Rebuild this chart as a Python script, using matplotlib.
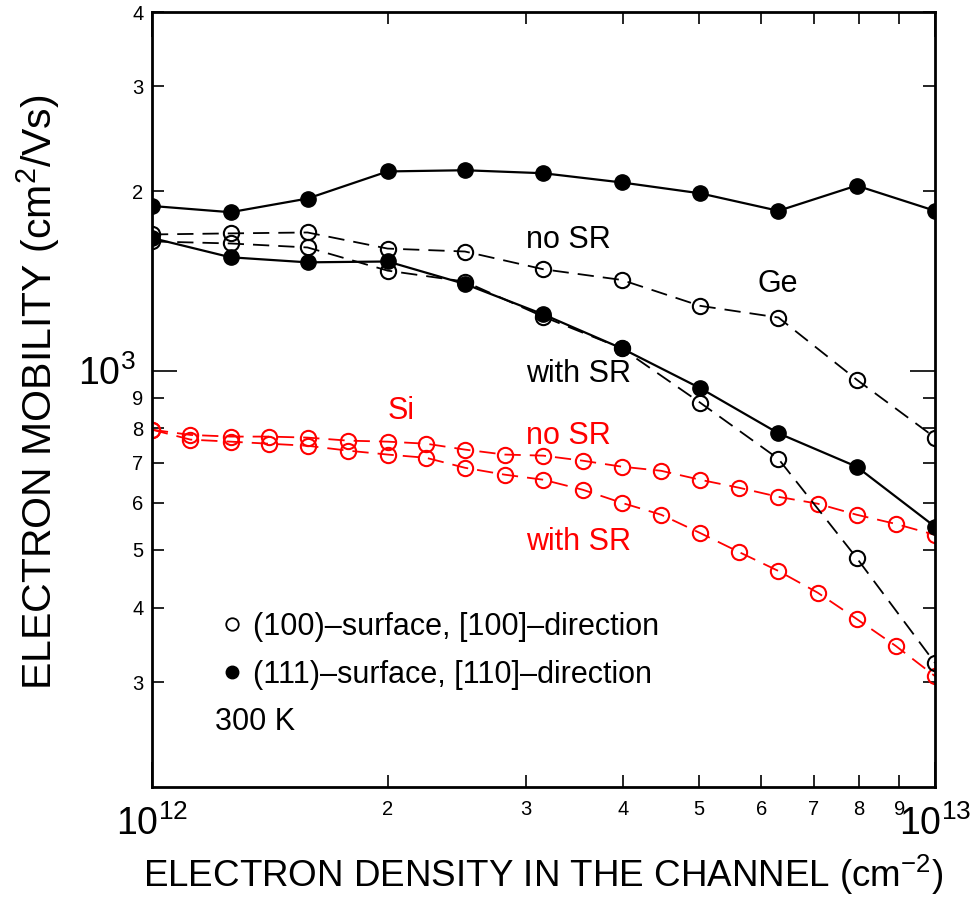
import matplotlib
matplotlib.use("Agg")
import matplotlib.pyplot as plt
from matplotlib.lines import Line2D
from matplotlib.ticker import FixedLocator, FixedFormatter

plt.rcParams['font.family'] = ['Liberation Sans', 'DejaVu Sans']
plt.rcParams['mathtext.default'] = 'regular'

# electron density (1e12 cm^-2)
n_ge = [1.0, 1.26, 1.58, 2.0, 2.51, 3.16, 3.98, 5.01, 6.31, 7.94, 10.0]
n_si = [1.0, 1.12, 1.26, 1.41, 1.58, 1.78, 2.0, 2.24, 2.51, 2.82, 3.16,
        3.55, 3.98, 4.47, 5.01, 5.62, 6.31, 7.08, 7.94, 8.91, 10.0]

# Ge mobility (cm^2/Vs)
ge_111_nosr = [1890, 1845, 1945, 2160, 2170, 2145, 2070, 1985, 1855, 2045, 1855]
ge_111_sr = [1670, 1550, 1520, 1525, 1398, 1243, 1090, 935, 785, 690, 547]
ge_100_nosr = [1693, 1700, 1706, 1603, 1585, 1480, 1420, 1285, 1228, 966, 772]
ge_100_sr = [1648, 1635, 1610, 1472, 1411, 1232, 1090, 884, 711, 485, 323]

# Si mobility (cm^2/Vs)
si_100_nosr = [796, 780, 775, 775, 772, 763, 760, 754, 737, 723, 720, 706, 690,
               679, 656, 636, 614, 598, 573, 553, 530]
si_100_sr = [796, 766, 760, 754, 748, 734, 723, 714, 687, 669, 656, 631, 600,
             573, 534, 496, 461, 424, 383, 345, 307]

x_ge = [v * 1e12 for v in n_ge]
x_si = [v * 1e12 for v in n_si]

fig = plt.figure(figsize=(9.74, 8.98), dpi=100)
ax = fig.add_axes([0.156, 0.1236, 0.804, 0.863])
ax.set_xscale('log')
ax.set_yscale('log')

dash = (9, 5)
ax.plot(x_si, si_100_nosr, color='red', lw=1.3, dashes=dash, marker='o', ms=11,
        mfc='none', mec='red', mew=1.5)
ax.plot(x_si, si_100_sr, color='red', lw=1.3, dashes=dash, marker='o', ms=11,
        mfc='none', mec='red', mew=1.5)
ax.plot(x_ge, ge_100_nosr, color='black', lw=1.3, dashes=dash, marker='o', ms=11,
        mfc='none', mec='black', mew=1.5)
ax.plot(x_ge, ge_100_sr, color='black', lw=1.3, dashes=dash, marker='o', ms=11,
        mfc='none', mec='black', mew=1.5)
ax.plot(x_ge, ge_111_nosr, color='black', lw=1.6, marker='o', ms=11, zorder=3)
ax.plot(x_ge, ge_111_sr, color='black', lw=1.6, marker='o', ms=11, zorder=3)

ax.set_xlim(1e12, 1e13)
ax.set_ylim(200, 4000)

# ticks
x_major = [1e12, 1e13]
x_minor = [2e12, 3e12, 4e12, 5e12, 6e12, 7e12, 8e12, 9e12]
y_major = [1000]
y_minor = [300, 400, 500, 600, 700, 800, 900, 2000, 3000, 4000]

ax.xaxis.set_major_locator(FixedLocator(x_major))
ax.xaxis.set_major_formatter(FixedFormatter(['$10^{12}$', '$10^{13}$']))
ax.xaxis.set_minor_locator(FixedLocator(x_minor))
ax.xaxis.set_minor_formatter(FixedFormatter(['2', '3', '4', '5', '6', '7', '8', '9']))
ax.yaxis.set_major_locator(FixedLocator(y_major))
ax.yaxis.set_major_formatter(FixedFormatter(['$10^3$']))
ax.yaxis.set_minor_locator(FixedLocator(y_minor))
ax.yaxis.set_minor_formatter(FixedFormatter(['3', '4', '5', '6', '7', '8', '9', '2', '3', '4']))

ax.tick_params(which='both', direction='in', top=True, right=True, width=1.2)
ax.tick_params(which='major', length=18)
ax.tick_params(which='minor', length=8.5)
ax.tick_params(axis='x', which='major', labelsize=27, pad=13)
ax.tick_params(axis='x', which='minor', labelsize=14.5, pad=9)
ax.tick_params(axis='y', which='major', labelsize=27, pad=12)
ax.tick_params(axis='y', which='minor', labelsize=14.5, pad=6)
for s in ax.spines.values():
    s.set_linewidth(2)

ax.set_xlabel('ELECTRON DENSITY IN THE CHANNEL (cm$^{-2}$)', fontsize=26.5)
ax.xaxis.set_label_coords(0.5, -0.085)
ax.set_ylabel('ELECTRON MOBILITY (cm$^2$/Vs)', fontsize=29.5)
ax.yaxis.set_label_coords(-0.115, 0.51)

# annotations
ax.text(3.0e12, 1660, 'no SR', fontsize=22, ha='left', va='center')
ax.text(5.93e12, 1400, 'Ge', fontsize=22, ha='left', va='center')
ax.text(3.0e12, 988, 'with SR', fontsize=22, ha='left', va='center')
ax.text(2.0e12, 857, 'Si', fontsize=22, ha='left', va='center', color='red')
ax.text(3.0e12, 778, 'no SR', fontsize=22, ha='left', va='center', color='red')
ax.text(3.0e12, 516, 'with SR', fontsize=22, ha='left', va='center', color='red')

handles = [
    Line2D([], [], ls='none', marker='o', ms=9, mfc='none', mec='black', mew=1.3),
    Line2D([], [], ls='none', marker='o', ms=9, color='black'),
]
labels = ['(100)\u2013surface, [100]\u2013direction', '(111)\u2013surface, [110]\u2013direction']
ax.legend(handles, labels, loc='center left', bbox_to_anchor=(0.0825, 0.1755),
          frameon=False, fontsize=22, handlelength=1.0, handletextpad=0.2,
          borderpad=0, borderaxespad=0, labelspacing=0.6)
ax.text(0.0805, 0.0839, '300 K', fontsize=22, ha='left', va='center', transform=ax.transAxes)

fig.savefig('out.png', dpi=100)
